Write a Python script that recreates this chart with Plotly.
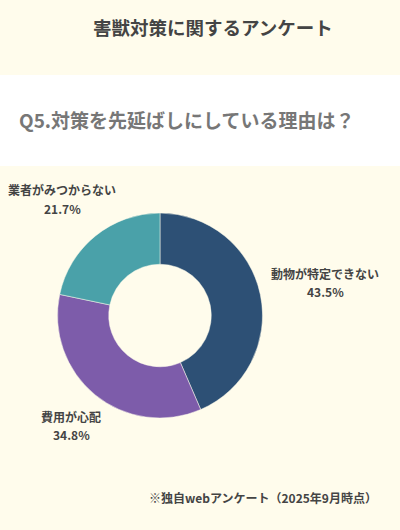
import plotly.graph_objects as go

labels = ["動物が特定できない", "費用が心配", "業者がみつからない"]
values = [43.5, 34.8, 21.7]
colors = ["#2d5075", "#7d5caa", "#4aa1a9"]

# where each outside label sits (px from top-left): x centre, first line y
label_pos = [(325, 273), (71, 416), (62, 190)]
line_gap = 18

W, H = 400, 530
font_name = "Noto Sans CJK JP"
cream = "#fffcec"

fig = go.Figure()
fig.add_trace(go.Pie(
    labels=labels,
    values=values,
    hole=0.5,
    sort=False,
    direction="clockwise",
    rotation=0,
    textinfo="none",
    marker=dict(colors=colors, line=dict(color=cream, width=0.5)),
    domain=dict(x=[57.5 / W, 262.5 / W], y=[112 / H, 317 / H]),
    showlegend=False,
))

lab_font = dict(family=font_name, size=12, color="#444444", weight="bold")
annotations = []
for lab, val, (px, py) in zip(labels, values, label_pos):
    annotations.append(dict(
        x=px / W, y=1 - py / H, xref="paper", yref="paper",
        text=lab, showarrow=False, xanchor="center", yanchor="middle",
        font=lab_font,
    ))
    annotations.append(dict(
        x=px / W, y=1 - (py + line_gap) / H, xref="paper", yref="paper",
        text=f"{val}%", showarrow=False, xanchor="center", yanchor="middle",
        font=lab_font,
    ))

annotations.append(dict(
    x=213 / W, y=1 - 27 / H, xref="paper", yref="paper",
    text="害獣対策に関するアンケート", showarrow=False,
    xanchor="center", yanchor="middle",
    font=dict(family=font_name, size=18.5, color="#444444", weight="bold"),
))
annotations.append(dict(
    x=17 / W, y=1 - 120 / H, xref="paper", yref="paper",
    text="Q5.対策を先延ばしにしている理由は？", showarrow=False,
    xanchor="left", yanchor="middle",
    font=dict(family=font_name, size=19, color="#777777", weight="bold"),
))
annotations.append(dict(
    x=379 / W, y=1 - 497 / H, xref="paper", yref="paper",
    text="※独自webアンケート（2025年9月時点）", showarrow=False,
    xanchor="right", yanchor="middle",
    font=dict(family=font_name, size=12, color="#444444", weight="bold"),
))

fig.update_layout(
    width=W, height=H,
    margin=dict(l=0, r=0, t=0, b=0),
    paper_bgcolor=cream,
    plot_bgcolor=cream,
    annotations=annotations,
    shapes=[dict(type="rect", xref="paper", yref="paper",
                 x0=0, x1=1, y0=1 - 166 / H, y1=1 - 75 / H,
                 fillcolor="#ffffff", line=dict(width=0), layer="below")],
)

# drop the default page margin so the figure fills the window
fig.write_html("out.html", config={"displayModeBar": False},
               post_script="document.body.style.margin='0';")
